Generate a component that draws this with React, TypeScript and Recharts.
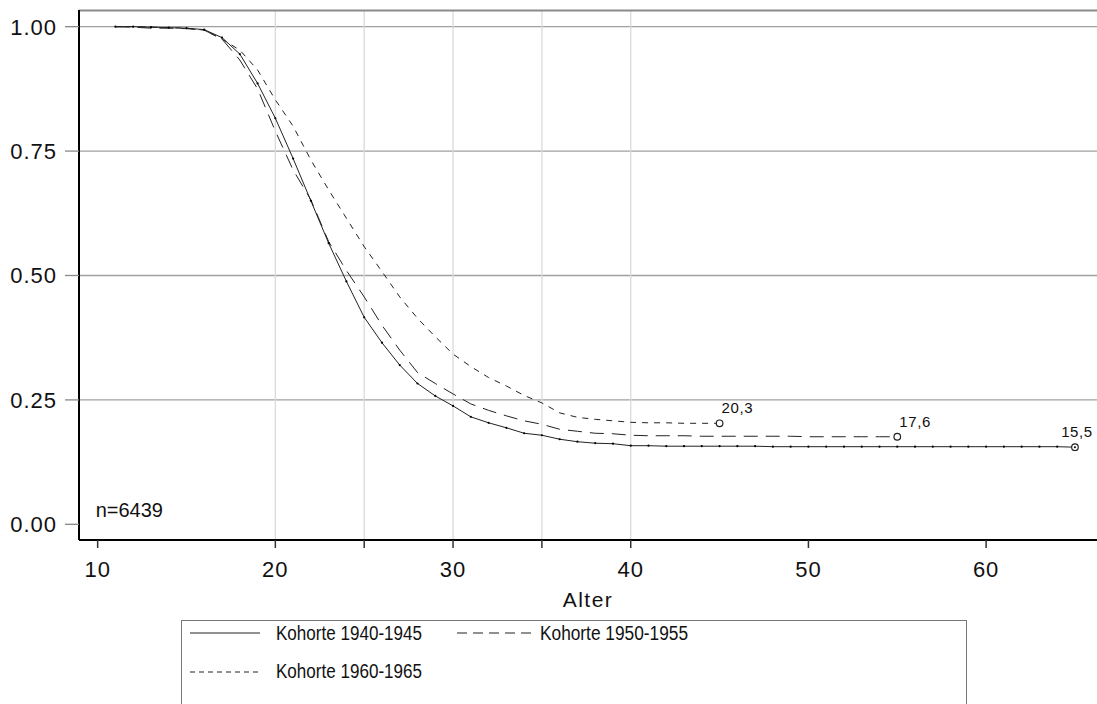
import React from 'react';
import { LineChart, Line, XAxis, YAxis, ReferenceLine, ReferenceDot } from 'recharts';

// ---- data ----
const ages = [
  11, 12, 13, 14, 15, 16, 17, 18, 19, 20,
  21, 22, 23, 24, 25, 26, 27, 28, 29, 30,
  31, 32, 33, 34, 35, 36, 37, 38, 39, 40,
  41, 42, 43, 44, 45, 46, 47, 48, 49, 50,
  51, 52, 53, 54, 55, 56, 57, 58, 59, 60,
  61, 62, 63, 64, 65,
];

// Kohorte 1940-1945 (ages 11..65)
const kohorte1940 = [
  1.0, 1.0, 0.999, 0.998, 0.997, 0.994, 0.978, 0.945, 0.886, 0.816,
  0.735, 0.65, 0.565, 0.488, 0.416, 0.365, 0.32, 0.283, 0.258, 0.238,
  0.216, 0.204, 0.194, 0.183, 0.179, 0.171, 0.166, 0.163, 0.162, 0.158,
  0.158, 0.157, 0.157, 0.157, 0.157, 0.157, 0.157, 0.156, 0.156, 0.156,
  0.156, 0.156, 0.156, 0.156, 0.156, 0.156, 0.156, 0.156, 0.156, 0.156,
  0.156, 0.156, 0.156, 0.156, 0.155,
];

// Kohorte 1950-1955 (ages 11..55)
const kohorte1950 = [
  1.0, 0.999, 0.997, 0.997, 0.996, 0.993, 0.975, 0.933, 0.875, 0.79,
  0.712, 0.652, 0.568, 0.51, 0.457, 0.4, 0.35, 0.305, 0.283, 0.262,
  0.242, 0.229, 0.218, 0.208, 0.201, 0.191, 0.187, 0.183, 0.182, 0.179,
  0.178, 0.178, 0.178, 0.177, 0.177, 0.177, 0.177, 0.177, 0.177, 0.176,
  0.176, 0.176, 0.176, 0.176, 0.176,
];

// Kohorte 1960-1965 (ages 11..45)
const kohorte1960 = [
  1.0, 1.0, 0.999, 0.998, 0.997, 0.993, 0.975, 0.953, 0.913, 0.853,
  0.8, 0.732, 0.672, 0.615, 0.558, 0.508, 0.457, 0.414, 0.377, 0.342,
  0.317, 0.295, 0.278, 0.259, 0.244, 0.224, 0.215, 0.211, 0.208, 0.205,
  0.204, 0.204, 0.203, 0.203, 0.203,
];

const seriesNames = ['Kohorte 1940-1945', 'Kohorte 1950-1955', 'Kohorte 1960-1965'];
const xTicks = [10, 20, 25, 30, 35, 40, 50, 60];
const xTickLabels = ['10', '20', '', '30', '', '40', '50', '60'];
const yTicks = [0, 0.25, 0.5, 0.75, 1];
const yTickLabels = ['0.00', '0.25', '0.50', '0.75', '1.00'];
const verticalGridAges = [20, 25, 30, 35, 40];
const horizontalGridValues = [0.25, 0.5, 0.75, 1];
const sampleSizeLabel = 'n=6439';
const sampleSizeAnchor = { age: 10, value: 0.015 };
const xAxisTitle = 'Alter';

// ---- table ----
const tableData = ages.map((age, i) => ({
  age,
  k1940: i < kohorte1940.length ? kohorte1940[i] : undefined,
  k1950: i < kohorte1950.length ? kohorte1950[i] : undefined,
  k1960: i < kohorte1960.length ? kohorte1960[i] : undefined,
}));

const FONT = '"Liberation Sans", Arial, Helvetica, sans-serif';
const LINE_COLOR = '#222';

function makeDot(values: number[], withMarks: boolean, keyPrefix: string) {
  const last = values.length - 1;
  const reachesEnd = values.length === ages.length;
  return (props: any) => {
    const { cx, cy, index } = props;
    const key = `${keyPrefix}-${index}`;
    if (cx == null || cy == null || index > last || Number.isNaN(cx) || Number.isNaN(cy)) {
      return <g key={key} />;
    }
    if (index === last) {
      const label = (values[last] * 100).toFixed(1).replace('.', ',');
      return (
        <g key={key}>
          <circle cx={cx} cy={cy} r={3.3} fill="#fff" stroke={LINE_COLOR} strokeWidth={1.2} />
          {withMarks && <circle cx={cx} cy={cy} r={1} fill="#000" />}
          <text
            x={cx + 2}
            y={cy - 10}
            textAnchor={reachesEnd ? 'middle' : 'start'}
            fontSize={15}
            letterSpacing={0.6}
            fontFamily={FONT}
            fill="#111"
          >
            {label}
          </text>
        </g>
      );
    }
    if (!withMarks) return <g key={key} />;
    return <circle key={key} cx={cx} cy={cy} r={1.1} fill="#000" />;
  };
}

const YTick = (props: any) => {
  const { x, y, payload } = props;
  const idx = yTicks.indexOf(payload.value);
  return (
    <text x={x} y={y + 8} textAnchor="end" fontSize={22} letterSpacing={1} fontFamily={FONT} fill="#111">
      {idx >= 0 ? yTickLabels[idx] : ''}
    </text>
  );
};

const XTick = (props: any) => {
  const { x, y, payload } = props;
  const idx = xTicks.indexOf(payload.value);
  return (
    <text x={x} y={y + 16} textAnchor="middle" fontSize={22} letterSpacing={1} fontFamily={FONT} fill="#111">
      {idx >= 0 ? xTickLabels[idx] : ''}
    </text>
  );
};

const XTitle = (props: any) => {
  const vb = props.viewBox || {};
  return (
    <text
      x={vb.x + vb.width / 2}
      y={vb.y + 67}
      textAnchor="middle"
      fontSize={21}
      letterSpacing={1.5}
      fontFamily={FONT}
      fill="#111"
    >
      {xAxisTitle}
    </text>
  );
};

const legendText = {
  fontSize: 19.5,
  fontFamily: FONT,
  fill: '#111',
  lengthAdjust: 'spacingAndGlyphs' as const,
};

const Legend = () => (
  <div
    style={{
      position: 'absolute',
      left: 181,
      top: 620,
      width: 786,
      height: 110,
      border: '1px solid #777',
      boxSizing: 'border-box',
      background: '#fff',
    }}
  >
    <svg width={786} height={110} style={{ position: 'absolute', left: -1, top: -1 }}>
      <line x1={9} x2={79} y1={13} y2={13} stroke={LINE_COLOR} strokeWidth={1} />
      <text x={95} y={20} textLength={146} {...legendText}>
        {seriesNames[0]}
      </text>
      <line x1={276} x2={351} y1={13} y2={13} stroke={LINE_COLOR} strokeWidth={1} strokeDasharray="10 6" />
      <text x={359} y={20} textLength={148} {...legendText}>
        {seriesNames[1]}
      </text>
      <line x1={9} x2={79} y1={52} y2={52} stroke={LINE_COLOR} strokeWidth={1} strokeDasharray="5 4" />
      <text x={95} y={58} textLength={146} {...legendText}>
        {seriesNames[2]}
      </text>
    </svg>
  </div>
);

export default function App() {
  return (
    <div
      style={{
        position: 'absolute',
        left: 0,
        top: 0,
        width: 1097,
        height: 704,
        overflow: 'hidden',
        background: '#fff',
        fontFamily: FONT,
      }}
    >
      <LineChart
        width={1097}
        height={704}
        data={tableData}
        margin={{ top: 10, right: 0, bottom: 94, left: 0 }}
      >
        {horizontalGridValues.map((v) => (
          <ReferenceLine key={`h-${v}`} y={v} stroke="#a0a0a0" strokeWidth={1.3} />
        ))}
        {verticalGridAges.map((a) => (
          <ReferenceLine key={`v-${a}`} x={a} stroke="#dadada" strokeWidth={1.3} />
        ))}
        <ReferenceLine y={1.0325} stroke="#8a8a8a" strokeWidth={2} />
        <XAxis
          dataKey="age"
          type="number"
          domain={[8.95, 66.24]}
          allowDataOverflow
          ticks={xTicks}
          interval={0}
          height={70}
          tickSize={8}
          tickMargin={13}
          axisLine={{ stroke: '#000', strokeWidth: 2 }}
          tickLine={{ stroke: '#333', strokeWidth: 1.5 }}
          tick={<XTick />}
          label={<XTitle />}
        />
        <YAxis
          type="number"
          domain={[-0.0315, 1.0335]}
          allowDataOverflow
          ticks={yTicks}
          interval={0}
          width={79}
          tickSize={14}
          tickMargin={8}
          axisLine={{ stroke: '#000', strokeWidth: 2 }}
          tickLine={{ stroke: '#888', strokeWidth: 1.3 }}
          tick={<YTick />}
        />
        <ReferenceDot
          x={sampleSizeAnchor.age}
          y={sampleSizeAnchor.value}
          r={0}
          shape={(p: any) => (
            <text x={p.cx - 2} y={p.cy} fontSize={20} fontFamily={FONT} fill="#111">
              {sampleSizeLabel}
            </text>
          )}
        />
        <Line
          type="linear"
          dataKey="k1960"
          name={seriesNames[2]}
          stroke={LINE_COLOR}
          strokeWidth={1}
          strokeDasharray="6 6"
          dot={makeDot(kohorte1960, false, 'c')}
          activeDot={false}
          isAnimationActive={false}
          connectNulls={false}
        />
        <Line
          type="linear"
          dataKey="k1950"
          name={seriesNames[1]}
          stroke={LINE_COLOR}
          strokeWidth={1}
          strokeDasharray="14 8"
          dot={makeDot(kohorte1950, false, 'b')}
          activeDot={false}
          isAnimationActive={false}
          connectNulls={false}
        />
        <Line
          type="linear"
          dataKey="k1940"
          name={seriesNames[0]}
          stroke={LINE_COLOR}
          strokeWidth={1}
          dot={makeDot(kohorte1940, true, 'a')}
          activeDot={false}
          isAnimationActive={false}
          connectNulls={false}
        />
      </LineChart>
      <Legend />
    </div>
  );
}
